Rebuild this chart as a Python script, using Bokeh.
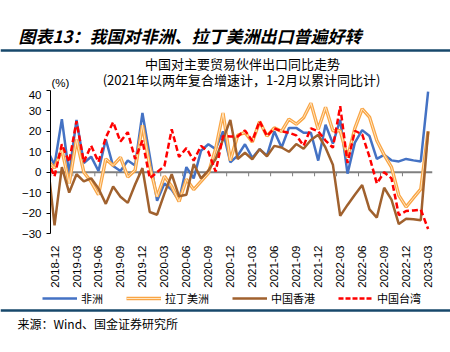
import math
from bokeh.plotting import figure
from bokeh.layouts import column
from bokeh.models import Range1d, FixedTicker, Span, Label, Legend, LegendItem
from bokeh.embed import file_html
from bokeh.resources import INLINE

# month index: 2018-11 = -1, 2018-12 = 0 ... 2023-03 = 51
months = ["2018-11", "2018-12",
          "2019-01", "2019-02", "2019-03", "2019-04", "2019-05", "2019-06",
          "2019-07", "2019-08", "2019-09", "2019-10", "2019-11", "2019-12",
          "2020-01", "2020-02", "2020-03", "2020-04", "2020-05", "2020-06",
          "2020-07", "2020-08", "2020-09", "2020-10", "2020-11", "2020-12",
          "2021-01", "2021-02", "2021-03", "2021-04", "2021-05", "2021-06",
          "2021-07", "2021-08", "2021-09", "2021-10", "2021-11", "2021-12",
          "2022-01", "2022-02", "2022-03", "2022-04", "2022-05", "2022-06",
          "2022-07", "2022-08", "2022-09", "2022-10", "2022-11", "2022-12",
          "2023-01", "2023-02", "2023-03"]

africa = [11, 3.5, 26, -1, 25.6, 4.5, 7.6, 0.6, 16, 3, 0.6, 5.7, 3.3, 29,
          8, -14, -5.5, -8.6, -14, 2.5, -3, 10.5, 13.7, 11.3, 20, 4.9,
          8.1, 13.7, 7, 11.3, 8.1, 20, 12.1, 21.7, 21.7, 19.3, 19.3, 5.7,
          23.2, 14, 25.6, -0.7, 14.5, 20.6, 17.7, 6.5, 8.5, 5.8, 5.3, 6.5,
          5.8, 5.3, 39.5]

latam = [6, 2, 11, -5.5, 16, 0, -4.7, -11, 6.5, 3.3, 7.3, -2.3, 1, 23,
         3, -12, -2, -7, -14.3, -3.5, -8.5, -4.5, -0.5, 11.5, 29, 5.7,
         18, 19.5, 14.8, 24.8, 17.7, 21.7, 20, 26, 23.5, 26.7, 33.8, 21,
         31.8, 20.3, 20.3, 7.3, 21.5, 31, 27, 15.5, 8.5, 2.5, -11.3, -17,
         -12.6, -8.3, 20]

hongkong = [7, -26, 2.5, -10, -1, -4.5, -3, -8, -15.5, -7, -12, -15, -6, 2,
            -19.5, -20.8, -10.5, -1, -11.8, -11, 4, -3, 0.8, 6.5, 16, 25.6,
            6.5, 9.5, 6.3, 11.3, 7.8, 12.9, 12.1, 10, 13.8, 11.5, 15.8, 18.3,
            12, 3.7, -21.4, -16, -11, -6.3, -18.2, -22.2, -7.6, -13.4, -25.4, -22.8,
            -23, -23.5, 20]

taiwan = [6, -2, 13.7, 5, 25, 5, 13, 5, 17, 24.5, 15, 19.6, 6.5, 15.5,
          -3, 0, 3, 21, 7.5, 11.8, 5.7, 12.9, 10, 0.3, 17.7, 17.5,
          17.5, 20.5, 15.3, 25, 17.7, 21.5, 20, 19.3, 18, 13, 21.5, 20,
          15.5, 12, 32.3, 4.5, 20.3, 18.5, 7.5, -5.5, 0, -3, -21, -19,
          -18.7, -18.3, -27.8]

tick_labels = ["2018-12", "2019-03", "2019-06", "2019-09", "2019-12", "2020-03",
               "2020-06", "2020-09", "2020-12", "2021-03", "2021-06", "2021-09",
               "2021-12", "2022-03", "2022-06", "2022-09", "2022-12", "2023-03"]

y_ticks = [-30, -20, -10, 0, 10, 20, 30, 40]

series_names = ["非洲", "拉丁美洲", "中国香港", "中国台湾"]
colors = ["#4472C4", "#F9A545", "#A0612E", "#FF0000"]
LA_CORE = "#FFE6C2"

x = [months.index(m) - 1 for m in months]
tick_pos = [months.index(t) - 1 for t in tick_labels]
bounds = [t - 0.5 for t in tick_pos]

CJK = "Noto Sans CJK SC"
LAT = "Liberation Sans"
W = 450
RULE = "#17486B"
TOP_H, MAIN_H, BOT_H = 90, 200, 62


def text_fig(h):
    f = figure(width=W, height=h, output_backend="svg", toolbar_location=None,
               x_range=Range1d(0, W), y_range=Range1d(h, 0),
               x_axis_location=None, y_axis_location=None,
               min_border=0, min_border_left=0, min_border_right=0,
               min_border_top=0, min_border_bottom=0, frame_align=False)
    f.outline_line_color = None
    f.grid.visible = False
    return f


def lab(f, xp, yp, text, size, font=CJK, style="normal", align="left"):
    f.add_layout(Label(x=xp, y=yp, text=text, text_font=font, text_font_size=size,
                       text_font_style=style, text_align=align,
                       text_baseline="middle", text_color="black"))


# ---------- top: titles ----------
top = text_fig(TOP_H)
lab(top, 18, 35, "图表13：我国对非洲、拉丁美洲出口普遍好转", "17px", style="bold italic")
top.add_layout(Span(location=50, dimension="width", line_color=RULE, line_width=2.5))
lab(top, 242, 63, "中国对主要贸易伙伴出口同比走势", "13px", align="center")
lab(top, 241, 79, "(2021年以两年复合增速计，1-2月以累计同比计)", "13px", align="center")
lab(top, 51, 82, "(%)", "11.5px", font=LAT)

# ---------- main chart ----------
p = figure(width=W, height=MAIN_H, output_backend="svg", toolbar_location=None,
           x_range=Range1d(-0.55, 51.6), y_range=Range1d(-30, 40),
           min_border_left=50, min_border_right=18, min_border_top=0,
           min_border_bottom=MAIN_H - 146, frame_align=False)
p.outline_line_color = None
p.grid.visible = False

p.yaxis.ticker = FixedTicker(ticks=y_ticks)
p.yaxis.axis_line_color = "black"
p.yaxis.major_tick_line_color = "black"
p.yaxis.major_tick_out = 4
p.yaxis.major_tick_in = 0
p.yaxis.minor_tick_line_color = None
p.yaxis.major_label_text_font = LAT
p.yaxis.major_label_text_font_size = "11.5px"
p.yaxis.major_label_text_color = "black"
p.yaxis.major_label_standoff = 5

p.xaxis.ticker = FixedTicker(ticks=tick_pos)
p.xaxis.major_label_overrides = {t: l for t, l in zip(tick_pos, tick_labels)}
p.xaxis.major_label_orientation = math.pi / 2
p.xaxis.axis_line_color = None
p.xaxis.major_tick_line_color = None
p.xaxis.minor_tick_line_color = None
p.xaxis.major_label_text_font = LAT
p.xaxis.major_label_text_font_size = "11.5px"
p.xaxis.major_label_text_color = "black"
p.xaxis.major_label_standoff = 6

p.add_layout(Span(location=0, dimension="width", line_color="#7F7F7F",
                  line_width=2, level="underlay"))
p.segment(x0=bounds, y0=[0] * len(bounds), x1=bounds, y1=[-2] * len(bounds),
          line_color="#7F7F7F", line_width=1, level="underlay")

p.line(x, africa, line_color=colors[0], line_width=2.5)
p.line(x, latam, line_color=colors[1], line_width=3.4)
p.line(x, latam, line_color=LA_CORE, line_width=1)
p.line(x, hongkong, line_color=colors[2], line_width=2.5)
p.line(x, taiwan, line_color=colors[3], line_width=2.5, line_dash="6 3")

# ---------- bottom: legend, rule, source ----------
bot = text_fig(BOT_H)
k_af = bot.line(x, africa, line_color=colors[0], line_width=2.5, visible=False)
k_la1 = bot.line(x, latam, line_color=colors[1], line_width=3.4, visible=False)
k_la2 = bot.line(x, latam, line_color=LA_CORE, line_width=1, visible=False)
k_hk = bot.line(x, hongkong, line_color=colors[2], line_width=2.5, visible=False)
k_tw = bot.line(x, taiwan, line_color=colors[3], line_width=2.5, line_dash="5 2",
                visible=False)
legend = Legend(items=[LegendItem(label=series_names[0], renderers=[k_af]),
                       LegendItem(label=series_names[1], renderers=[k_la1, k_la2]),
                       LegendItem(label=series_names[2], renderers=[k_hk]),
                       LegendItem(label=series_names[3], renderers=[k_tw])],
                orientation="horizontal", location=(42, BOT_H - 16),
                glyph_width=35, glyph_height=14, label_height=14,
                label_standoff=4, spacing=23, padding=0, margin=0,
                border_line_color=None, background_fill_alpha=0,
                inactive_fill_alpha=0, click_policy="none",
                label_text_font=CJK, label_text_font_size="11px",
                label_text_color="black")
bot.add_layout(legend, "center")
bot.add_layout(Span(location=20, dimension="width", line_color=RULE, line_width=2.5))
lab(bot, 17, 33, "来源：Wind、国金证券研究所", "12px")

layout = column(top, p, bot, spacing=0)
open("out.html", "w").write(file_html(layout, INLINE))
